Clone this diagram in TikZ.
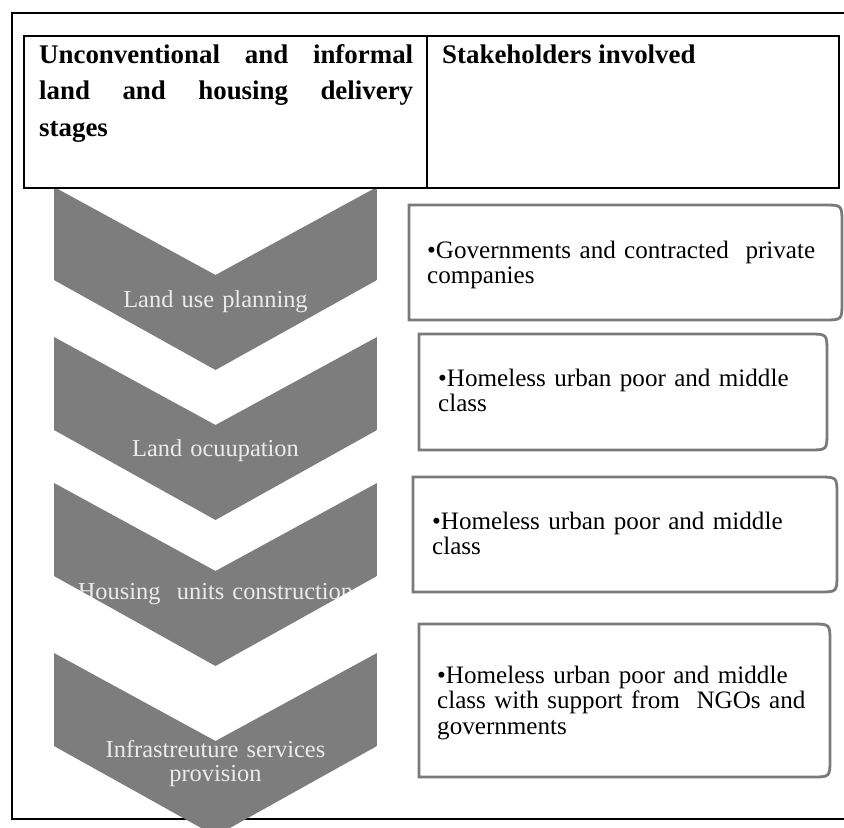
\documentclass[tikz,border=0pt]{standalone}
\usepackage{fontspec}
\setmainfont{Liberation Serif}
\usepackage{tikz}
\tikzset{
	stagefill/.style={fill=black!51},
	stagetext/.style={text=black!8, font=\fontsize{24.5}{25}\selectfont, inner sep=0pt, anchor=base, align=center, text width=300bp},
	actorline/.style={draw=black!52, line width=2.8bp},
	actortext/.style={font=\fontsize{25.2}{26}\selectfont, inner sep=0pt, anchor=base west, align=left, text width=400bp},
	headtext/.style={font=\bfseries\fontsize{27}{37}\selectfont, inner sep=0pt, anchor=base west}
}
\def\stage[#1](#2:#3)#4{%
	\begin{scope}
		\clip (54,#2) -- (215.5,{#2+88}) -- (377,#2) -- (377,{#2+93}) -- (215.5,{#2+183}) -- (54,{#2+93}) -- cycle;
		\path[stagefill] (54,#2) rectangle (377,{#2+183});
		\node[stagetext] (#1) at (215.5,#3) {#4};
	\end{scope}}
\def\sidebox(#1,#2,#3,#4){\draw[actorline] (#1,#2) -- ({#3-18},#2) .. controls (#3,#2) .. (#3,{#2+18}) -- (#3,{#4-18}) .. controls (#3,#4) .. ({#3-18},#4) -- (#1,#4) -- cycle;}

\begin{document}
\begin{tikzpicture}[x=1bp, y=-1bp]
		%%%%% START %%%%%
		\useasboundingbox (0,0) rectangle (844,828);
		
		\draw[line width=1.5bp] (844,13) -- (12,13) -- (12,819) -- (844,819);
		
		\stage[stage1](187:307){Land use planning}
		\stage[stage2](337:456){Land ocuupation}
		\stage[stage3](483:599){Housing\ \ units construction}
		\stage[stage4](653:757){Infrastreuture services\\provision}
		
		\draw[line width=1.8bp] (24,36) rectangle (839,188);
		\draw[line width=1.8bp] (427,36) -- (427,188);
		\node[headtext, text width=374bp, align=justify] (head1) at (39,63) {Unconventional and informal\linebreak land and housing delivery\linebreak stages};
		\node[headtext] (head2) at (442,63) {Stakeholders involved};
		
		\sidebox(409,205,842,320)
		\sidebox(419,334,827,450)
		\sidebox(413,477,837,592)
		\sidebox(419,624,830,777)
		
		\node[actortext] (actor1) at (427,258) {\hangindent=9bp\hangafter=1 •Governments and contracted\ \ private\\companies};
		\node[actortext] (actor2) at (438,386) {\hangindent=9bp\hangafter=1 •Homeless urban poor and middle\\class};
		\node[actortext] (actor3) at (432,529) {\hangindent=9bp\hangafter=1 •Homeless urban poor and middle\\class};
		\node[actortext] (actor4) at (437,683) {\hangindent=9bp\hangafter=1 •Homeless urban poor and middle\\class with support from\ \ NGOs and\\governments};
		
		%%%%% END %%%%%
\end{tikzpicture}
\end{document}
